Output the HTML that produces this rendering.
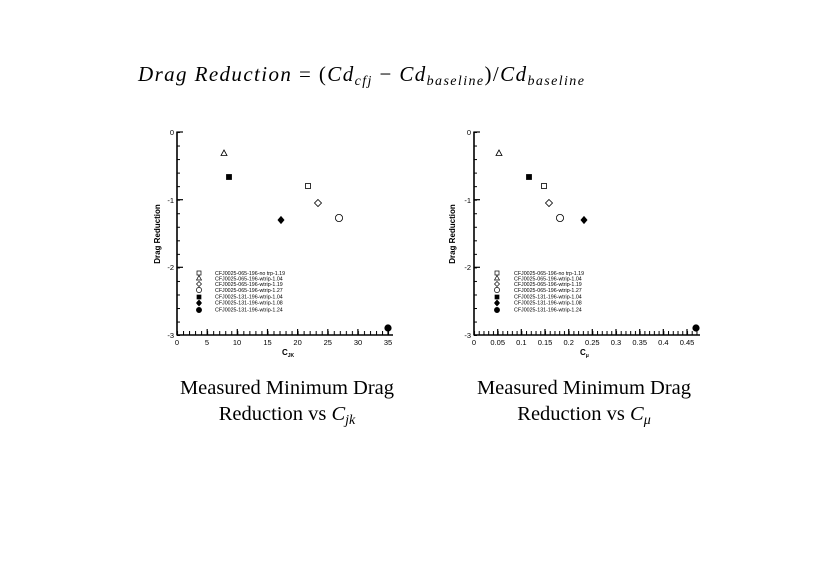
<!DOCTYPE html>
<html><head><meta charset="utf-8"><style>
html,body{margin:0;padding:0;background:#fff;}
svg{display:block;}
.t{font-family:"Liberation Sans",sans-serif;font-size:7.5px;fill:#000;}
.lg{font-family:"Liberation Sans",sans-serif;font-size:5.3px;fill:#000;}
.cap{font-family:"Liberation Serif",serif;font-size:20.5px;fill:#000;}
</style></head><body>
<svg width="819" height="580" viewBox="0 0 819 580" xmlns="http://www.w3.org/2000/svg">
<defs>
<pattern id="lx" x="177" y="0" width="6.03" height="580" patternUnits="userSpaceOnUse"><rect x="0" y="0" width="1" height="580" fill="#000"/></pattern>
<pattern id="ly" x="0" y="132" width="819" height="13.54" patternUnits="userSpaceOnUse"><rect x="0" y="0" width="819" height="1" fill="#000"/></pattern>
<pattern id="rx" x="474" y="0" width="4.733" height="580" patternUnits="userSpaceOnUse"><rect x="0" y="0" width="1" height="580" fill="#000"/></pattern>
</defs>
<text x="138" y="81" font-family="Liberation Serif,serif" font-style="italic" font-size="21" letter-spacing="1.4">Drag Reduction <tspan font-style="normal">= (</tspan>Cd<tspan font-size="14" dy="4">cfj</tspan><tspan dy="-4" font-style="normal"> − </tspan>Cd<tspan font-size="14" dy="4">baseline</tspan><tspan dy="-4" font-style="normal">)/</tspan>Cd<tspan font-size="14" dy="4">baseline</tspan></text>

<!-- LEFT PLOT -->
<g>
<rect x="177" y="331" width="216" height="4" fill="url(#lx)"/>
<rect x="177" y="132" width="3" height="204" fill="url(#ly)"/>
<line x1="177" y1="131.5" x2="177" y2="335.5" stroke="#000" stroke-width="1.6"/>
<line x1="177" y1="335" x2="393" y2="335" stroke="#000" stroke-width="1.6"/>
<g stroke="#000" stroke-width="1.2">
<line x1="177" y1="132" x2="183" y2="132"/><line x1="177" y1="199.7" x2="183" y2="199.7"/><line x1="177" y1="267.3" x2="183" y2="267.3"/>
<line x1="207.2" y1="335" x2="207.2" y2="329"/><line x1="237.3" y1="335" x2="237.3" y2="329"/><line x1="267.5" y1="335" x2="267.5" y2="329"/><line x1="297.6" y1="335" x2="297.6" y2="329"/><line x1="327.8" y1="335" x2="327.8" y2="329"/><line x1="357.9" y1="335" x2="357.9" y2="329"/><line x1="388" y1="335" x2="388" y2="329"/>
</g>
<g class="t" text-anchor="end"><text x="174" y="135">0</text><text x="174" y="203">-1</text><text x="174" y="270">-2</text><text x="174" y="338">-3</text></g>
<g class="t" text-anchor="middle"><text x="177" y="345">0</text><text x="207" y="345">5</text><text x="237" y="345">10</text><text x="267.5" y="345">15</text><text x="297.6" y="345">20</text><text x="327.8" y="345">25</text><text x="358" y="345">30</text><text x="388" y="345">35</text></g>
<text x="282" y="355" font-family="Liberation Sans,sans-serif" font-weight="bold" font-size="8">C<tspan font-size="5" dy="2">JK</tspan></text>
<text transform="translate(160,234) rotate(-90)" text-anchor="middle" font-family="Liberation Sans,sans-serif" font-weight="bold" font-size="8">Drag Reduction</text>
<g stroke="#000" stroke-width="0.8">
<polygon points="224,150 227,155.5 221,155.5" fill="none"/>
<rect x="226.5" y="174.5" width="5" height="5" fill="#000"/>
<rect x="305.5" y="183.5" width="5" height="5" fill="none"/>
<polygon points="318,199.5 321.5,203 318,206.5 314.5,203" fill="none"/>
<circle cx="339" cy="218" r="3.6" fill="none"/>
<polygon points="281,216.5 284,220 281,223.5 278,220" fill="#000"/><circle cx="281" cy="220" r="2.2" fill="#000"/>
<circle cx="388" cy="328" r="3.2" fill="#000"/>
</g>
<g stroke="#000" stroke-width="0.7">
<rect x="197" y="271" width="4" height="4" fill="none"/>
<polygon points="199,275.5 201.5,280 196.5,280" fill="none"/>
<polygon points="199,281.5 201.5,284 199,286.5 196.5,284" fill="none"/>
<circle cx="199" cy="290" r="2.6" fill="none"/>
<rect x="197" y="295" width="4" height="4" fill="#000"/>
<circle cx="199" cy="303" r="2" fill="#000"/><polygon points="199,300 201.5,303 199,306 196.5,303" fill="#000"/>
<circle cx="199" cy="310" r="2.6" fill="#000"/>
</g>
<g class="lg"><text x="215" y="275">CFJ0025-065-196-no trp-1.19</text><text x="215" y="280.5">CFJ0025-065-196-wtrip-1.04</text><text x="215" y="286">CFJ0025-065-196-wtrip-1.19</text><text x="215" y="292">CFJ0025-065-196-wtrip-1.27</text><text x="215" y="298.5">CFJ0025-131-196-wtrip-1.04</text><text x="215" y="304.5">CFJ0025-131-196-wtrip-1.08</text><text x="215" y="311.5">CFJ0025-131-196-wtrip-1.24</text></g>
</g>

<!-- RIGHT PLOT -->
<g>
<rect x="474" y="331" width="226" height="4" fill="url(#rx)"/>
<rect x="474" y="132" width="3" height="204" fill="url(#ly)"/>
<line x1="474" y1="131.5" x2="474" y2="335.5" stroke="#000" stroke-width="1.6"/>
<line x1="474" y1="335" x2="700" y2="335" stroke="#000" stroke-width="1.6"/>
<g stroke="#000" stroke-width="1.2">
<line x1="474" y1="132" x2="480" y2="132"/><line x1="474" y1="199.7" x2="480" y2="199.7"/><line x1="474" y1="267.3" x2="480" y2="267.3"/>
<line x1="497.7" y1="335" x2="497.7" y2="329"/><line x1="521.3" y1="335" x2="521.3" y2="329"/><line x1="545" y1="335" x2="545" y2="329"/><line x1="568.7" y1="335" x2="568.7" y2="329"/><line x1="592.3" y1="335" x2="592.3" y2="329"/><line x1="616" y1="335" x2="616" y2="329"/><line x1="639.7" y1="335" x2="639.7" y2="329"/><line x1="663.3" y1="335" x2="663.3" y2="329"/><line x1="687" y1="335" x2="687" y2="329"/>
</g>
<g class="t" text-anchor="end"><text x="471" y="135">0</text><text x="471" y="203">-1</text><text x="471" y="270">-2</text><text x="471" y="338">-3</text></g>
<g class="t" text-anchor="middle"><text x="474" y="345">0</text><text x="497.7" y="345">0.05</text><text x="521.3" y="345">0.1</text><text x="545" y="345">0.15</text><text x="568.7" y="345">0.2</text><text x="592.3" y="345">0.25</text><text x="616" y="345">0.3</text><text x="639.7" y="345">0.35</text><text x="663.3" y="345">0.4</text><text x="687" y="345">0.45</text></g>
<text x="580" y="355" font-family="Liberation Sans,sans-serif" font-weight="bold" font-size="8">C<tspan font-size="5" dy="2">μ</tspan></text>
<text transform="translate(455,234) rotate(-90)" text-anchor="middle" font-family="Liberation Sans,sans-serif" font-weight="bold" font-size="8">Drag Reduction</text>
<g stroke="#000" stroke-width="0.8">
<polygon points="499,150 502,155.5 496,155.5" fill="none"/>
<rect x="526.5" y="174.5" width="5" height="5" fill="#000"/>
<rect x="541.5" y="183.5" width="5" height="5" fill="none"/>
<polygon points="549,199.5 552.5,203 549,206.5 545.5,203" fill="none"/>
<circle cx="560" cy="218" r="3.6" fill="none"/>
<polygon points="584,216.5 587,220 584,223.5 581,220" fill="#000"/><circle cx="584" cy="220" r="2.2" fill="#000"/>
<circle cx="696" cy="328" r="3.2" fill="#000"/>
</g>
<g stroke="#000" stroke-width="0.7">
<rect x="495" y="271" width="4" height="4" fill="none"/>
<polygon points="497,275.5 499.5,280 494.5,280" fill="none"/>
<polygon points="497,281.5 499.5,284 497,286.5 494.5,284" fill="none"/>
<circle cx="497" cy="290" r="2.6" fill="none"/>
<rect x="495" y="295" width="4" height="4" fill="#000"/>
<circle cx="497" cy="303" r="2" fill="#000"/><polygon points="497,300 499.5,303 497,306 494.5,303" fill="#000"/>
<circle cx="497" cy="310" r="2.6" fill="#000"/>
</g>
<g class="lg"><text x="514" y="275">CFJ0025-065-196-no trp-1.19</text><text x="514" y="280.5">CFJ0025-065-196-wtrip-1.04</text><text x="514" y="286">CFJ0025-065-196-wtrip-1.19</text><text x="514" y="292">CFJ0025-065-196-wtrip-1.27</text><text x="514" y="298.5">CFJ0025-131-196-wtrip-1.04</text><text x="514" y="304.5">CFJ0025-131-196-wtrip-1.08</text><text x="514" y="311.5">CFJ0025-131-196-wtrip-1.24</text></g>
</g>

<text class="cap" x="287" y="394" text-anchor="middle">Measured Minimum Drag</text>
<text class="cap" x="287" y="420" text-anchor="middle">Reduction vs <tspan font-style="italic">C</tspan><tspan font-style="italic" font-size="14" dy="4">jk</tspan></text>
<text class="cap" x="584" y="394" text-anchor="middle">Measured Minimum Drag</text>
<text class="cap" x="584" y="420" text-anchor="middle">Reduction vs <tspan font-style="italic">C</tspan><tspan font-style="italic" font-size="14" dy="4">μ</tspan></text>
</svg>
</body></html>
